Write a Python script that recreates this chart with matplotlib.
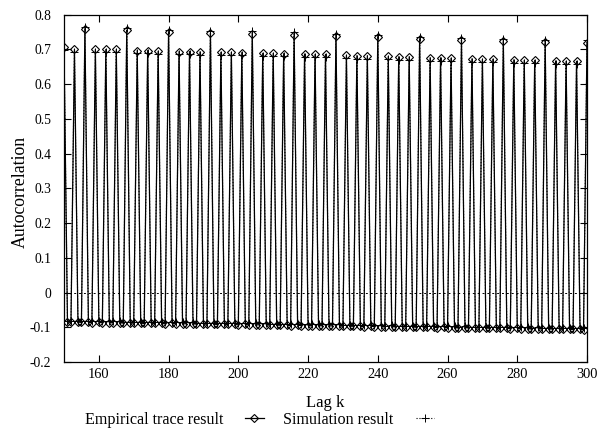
import matplotlib
matplotlib.use("Agg")
import matplotlib.pyplot as plt
import numpy as np

plt.rcParams['font.family'] = ['Liberation Serif', 'DejaVu Serif']

# lags 150..300; peaks at multiples of 3, troughs at the two lags between
lags = list(range(150, 301))

emp_peaks = [0.706, 0.700,
             0.758, 0.700, 0.700, 0.700,
             0.756, 0.697, 0.697, 0.695,
             0.751, 0.694, 0.694, 0.693,
             0.747, 0.692, 0.692, 0.691,
             0.746, 0.689, 0.689, 0.688,
             0.743, 0.687, 0.686, 0.686,
             0.740, 0.683, 0.682, 0.682,
             0.737, 0.680, 0.679, 0.679,
             0.731, 0.676, 0.676, 0.675,
             0.728, 0.673, 0.672, 0.672,
             0.725, 0.670, 0.669, 0.669,
             0.722, 0.667, 0.666, 0.666,
             0.720]

emp_troughs = [-0.085, -0.086, -0.085, -0.086, -0.086, -0.087, -0.086, -0.087,
               -0.087, -0.087, -0.087, -0.088, -0.088, -0.088, -0.088, -0.089,
               -0.088, -0.089, -0.089, -0.090, -0.089, -0.090, -0.090, -0.090,
               -0.090, -0.091, -0.091, -0.091, -0.091, -0.092, -0.091, -0.092,
               -0.092, -0.093, -0.092, -0.093, -0.093, -0.093, -0.093, -0.094,
               -0.094, -0.094, -0.094, -0.095, -0.094, -0.095, -0.095, -0.096,
               -0.095, -0.096, -0.096, -0.096, -0.096, -0.097, -0.097, -0.097,
               -0.097, -0.098, -0.097, -0.098, -0.098, -0.099, -0.098, -0.099,
               -0.099, -0.099, -0.099, -0.100, -0.100, -0.100, -0.100, -0.101,
               -0.100, -0.101, -0.101, -0.102, -0.101, -0.102, -0.102, -0.102,
               -0.102, -0.103, -0.103, -0.103, -0.103, -0.104, -0.103, -0.104,
               -0.104, -0.105, -0.104, -0.105, -0.105, -0.105, -0.105, -0.106,
               -0.106, -0.106, -0.106, -0.107]

sim_peaks = [0.698, 0.692,
             0.764, 0.692, 0.692, 0.692,
             0.762, 0.689, 0.689, 0.687,
             0.757, 0.686, 0.686, 0.685,
             0.753, 0.684, 0.684, 0.683,
             0.752, 0.681, 0.681, 0.680,
             0.749, 0.679, 0.678, 0.678,
             0.746, 0.675, 0.674, 0.674,
             0.743, 0.672, 0.671, 0.671,
             0.737, 0.668, 0.668, 0.667,
             0.734, 0.665, 0.664, 0.664,
             0.731, 0.662, 0.661, 0.661,
             0.728, 0.659, 0.658, 0.658,
             0.726]

sim_troughs = [-0.081, -0.082, -0.081, -0.082, -0.082, -0.083, -0.082, -0.083,
               -0.083, -0.083, -0.083, -0.084, -0.084, -0.084, -0.084, -0.085,
               -0.084, -0.085, -0.085, -0.086, -0.085, -0.086, -0.086, -0.086,
               -0.086, -0.087, -0.087, -0.087, -0.087, -0.088, -0.087, -0.088,
               -0.088, -0.089, -0.088, -0.089, -0.089, -0.089, -0.089, -0.090,
               -0.090, -0.090, -0.090, -0.091, -0.090, -0.091, -0.091, -0.092,
               -0.091, -0.092, -0.092, -0.092, -0.092, -0.093, -0.093, -0.093,
               -0.093, -0.094, -0.093, -0.094, -0.094, -0.095, -0.094, -0.095,
               -0.095, -0.095, -0.095, -0.096, -0.096, -0.096, -0.096, -0.097,
               -0.096, -0.097, -0.097, -0.098, -0.097, -0.098, -0.098, -0.098,
               -0.098, -0.099, -0.099, -0.099, -0.099, -0.100, -0.099, -0.100,
               -0.100, -0.101, -0.100, -0.101, -0.101, -0.101, -0.101, -0.102,
               -0.102, -0.102, -0.102, -0.103]

x_ticks = [160, 180, 200, 220, 240, 260, 280, 300]
y_ticks = [-0.2, -0.1, 0, 0.1, 0.2, 0.3, 0.4, 0.5, 0.6, 0.7, 0.8]
y_ticklabels = ['-0.2', '-0.1', '0', '0.1', '0.2', '0.3', '0.4', '0.5', '0.6', '0.7', '0.8']


def interleave(peaks, troughs):
    out = []
    pi, ti = 0, 0
    for k in lags:
        if (k - 150) % 3 == 0:
            out.append(peaks[pi]); pi += 1
        else:
            out.append(troughs[ti]); ti += 1
    return out


emp = interleave(emp_peaks, emp_troughs)
sim = interleave(sim_peaks, sim_troughs)

fig = plt.figure(figsize=(6.13, 4.34), dpi=100)
ax = fig.add_axes([0.1044, 0.1659, 0.8532, 0.8001])

ax.axhline(0, color='black', lw=0.7, ls=(0, (2, 3)))
l1, = ax.plot(lags, emp, color='black', lw=0.9, marker='D', ms=4.2,
              mfc='none', mec='black', mew=0.8, label='Empirical trace result')
l2, = ax.plot(lags, sim, color='black', lw=0.8, ls=':', marker='+', ms=6,
              mew=0.7, label='Simulation result')

ax.set_xlim(150, 300)
ax.set_ylim(-0.2, 0.8)
ax.set_xticks(x_ticks)
ax.set_xticklabels([str(t) for t in x_ticks])
ax.set_yticks(y_ticks)
ax.set_yticklabels(y_ticklabels)
ax.tick_params(direction='in', top=True, right=True, length=5, width=0.8)
ax.tick_params(axis='x', labelsize=10.4, pad=4)
ax.tick_params(axis='y', labelsize=9.8, pad=9)
for s in ax.spines.values():
    s.set_linewidth(0.9)

ax.set_xlabel('Lag k', fontsize=12)
ax.xaxis.set_label_coords(0.5, -0.095)
ax.set_ylabel('Autocorrelation', fontsize=12.8)
ax.yaxis.set_label_coords(-0.068, 0.49)

fig.legend(handles=[l1, l2], loc='center left', bbox_to_anchor=(0.1387, 0.032),
           ncol=2, frameon=False, markerfirst=False, fontsize=11.6,
           borderpad=0, borderaxespad=0,
           handlelength=1.12, columnspacing=1.24, handletextpad=1.37)

fig.savefig('out.png', dpi=100)
